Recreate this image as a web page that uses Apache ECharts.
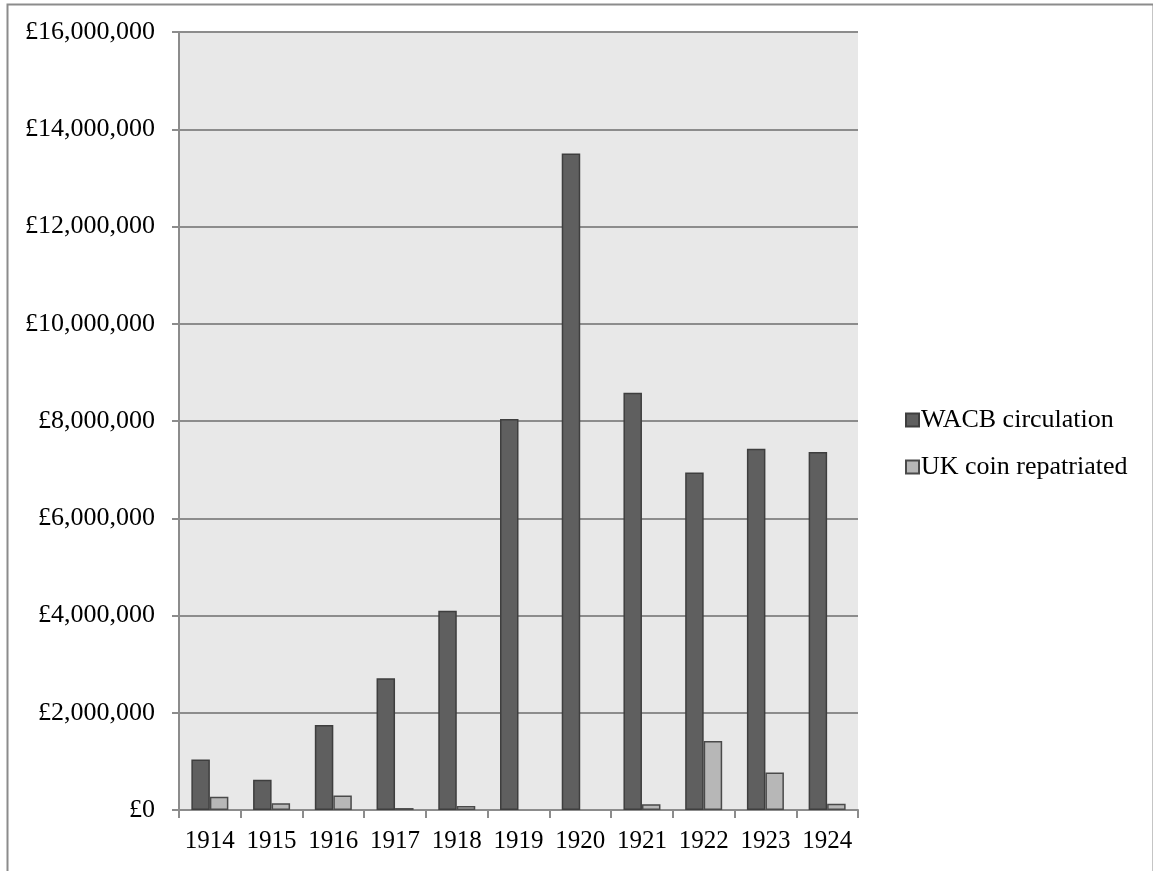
<!DOCTYPE html>
<html><head><meta charset="utf-8">
<script src="https://cdn.jsdelivr.net/npm/echarts@6/dist/echarts.min.js"></script>
<style>html,body{margin:0;padding:0;background:#fff;}#c{width:1153px;height:871px;}</style>
</head><body><div id="c"></div>
<script>
var categories = ['1914','1915','1916','1917','1918','1919','1920','1921','1922','1923','1924'];
var wacbCirculation = [1040000, 620000, 1750000, 2710000, 4100000, 8040000, 13500000, 8580000, 6940000, 7430000, 7360000];
var ukCoinRepatriated = [270000, 140000, 300000, 40000, 80000, 0, 0, 120000, 1420000, 770000, 130000];
var seriesNames = ['WACB circulation', 'UK coin repatriated'];

function fmt(v){
  var s = String(Math.round(v)).replace(/\B(?=(\d{3})+(?!\d))/g, ',');
  return '\u00a3' + s;
}
function noZero(arr){ return arr.map(function(v){ return v === 0 ? '-' : v; }); }
var font = 'Liberation Serif';
var chart = echarts.init(document.getElementById('c'), null, {renderer:'canvas'});
chart.setOption({
  animation: false,
  backgroundColor: '#ffffff',
  graphic: [{
    type: 'rect', left: 5, top: 2, z: 100,
    shape: {width: 1146, height: 900},
    style: {fill: 'none', stroke: '#8c8c8c', lineWidth: 2}
  }],
  grid: {left: 179, right: 295, top: 32, bottom: 61, show: true, backgroundColor: '#e8e8e8', borderWidth: 0},
  legend: {
    orient: 'vertical', left: 900, top: 402,
    itemWidth: 13, itemHeight: 13, itemGap: 21,
    icon: 'rect',
    textStyle: {fontFamily: font, fontSize: 26, color: '#000', lineHeight: 26, padding: [0,0,0,-3]},
    data: seriesNames
  },
  xAxis: {
    type: 'category', data: categories,
    axisLine: {show: true, lineStyle: {color: '#8c8c8c', width: 2}},
    axisTick: {show: true, length: 8, lineStyle: {color: '#8c8c8c', width: 2}},
    axisLabel: {fontFamily: font, fontSize: 25, color: '#000', margin: 19, interval: 0}
  },
  yAxis: {
    type: 'value', min: 0, max: 16000000, interval: 2000000,
    axisLine: {show: true, lineStyle: {color: '#8c8c8c', width: 2}},
    axisTick: {show: true, length: 7, lineStyle: {color: '#8c8c8c', width: 2}},
    splitLine: {show: true, lineStyle: {color: '#8c8c8c', width: 2}},
    axisLabel: {fontFamily: font, fontSize: 26, color: '#000', margin: 24, formatter: fmt}
  },
  series: [
    {name: seriesNames[0], type: 'bar', data: noZero(wacbCirculation), barWidth: 18.5, barGap: '0%',
     itemStyle: {color: '#5f5f5f', borderColor: '#3e3e3e', borderWidth: 1.5}},
    {name: seriesNames[1], type: 'bar', data: noZero(ukCoinRepatriated), barWidth: 18.5, barGap: '0%',
     itemStyle: {color: '#b7b7b7', borderColor: '#4a4a4a', borderWidth: 1.5}}
  ]
});
</script>
</body></html>
